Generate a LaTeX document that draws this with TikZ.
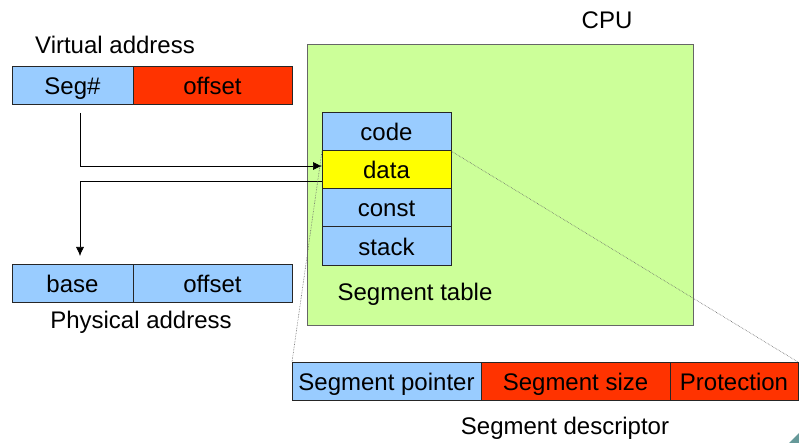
\documentclass[tikz,border=0pt]{standalone}
\usepackage{fontspec}
\setmainfont{Liberation Sans}
\usetikzlibrary{arrows.meta,positioning}

\definecolor{segblue}{HTML}{99CCFF}
\definecolor{segred}{HTML}{FF3300}
\definecolor{segyellow}{HTML}{FFFF00}
\definecolor{cpugreen}{HTML}{CCFF99}
\definecolor{cornerteal}{HTML}{669999}

\begin{document}
\begin{tikzpicture}[x=1pt,y=-1pt,>={Latex[length=9pt,width=8pt]},semithick,
	font=\fontsize{24}{28}\selectfont]
	\tikzstyle{cell}=[draw=black!85,line width=1pt,inner sep=0pt,outer sep=0pt,
		minimum height=38pt,text height=22pt,text depth=4pt,anchor=north west]
	\tikzstyle{zoomline}=[densely dotted,draw=black!60,line width=0.6pt]

	\useasboundingbox (0,0) rectangle (799,443);

	% CPU with its segment table
	\node[cell,fill=cpugreen,draw=black!60,minimum width=386pt,minimum height=280pt] (cpu) at (307,45) {};
	\node (cpulbl) at (607,20) {CPU};
	\node[cell,fill=segblue,minimum width=129pt] (code) at (322,113) {code};
	\node[cell,fill=segyellow,minimum width=129pt,below=0pt of code] (data) {data};
	\node[cell,fill=segblue,minimum width=129pt,below=0pt of data] (const) {const};
	\node[cell,fill=segblue,minimum width=129pt,below=0pt of const] (stack) {stack};
	\node (tbllbl) at (415,294) {Segment table};

	% virtual address
	\node (vlbl) at (115,45) {Virtual address};
	\node[cell,fill=segblue,minimum width=121pt] (seg) at (12,67) {Seg\#};
	\node[cell,fill=segred,minimum width=159pt,right=0pt of seg] (voff) {offset};

	% physical address
	\node[cell,fill=segblue,minimum width=121pt] (base) at (12,264) {base};
	\node[cell,fill=segblue,minimum width=159pt,right=0pt of base] (poff) {offset};
	\node (plbl) at (141,322) {Physical address};

	% segment descriptor
	\node[cell,fill=segblue,minimum width=189pt] (ptr) at (292,362) {Segment pointer};
	\node[cell,fill=segred,minimum width=189pt,right=0pt of ptr] (size) {Segment size};
	\node[cell,fill=segred,minimum width=128pt,right=0pt of size] (prot) {Protection};
	\node (dsclbl) at (565,428) {Segment descriptor};

	\coordinate (segtap) at (80,113);
	\draw[->] (segtap) |- ([yshift=4pt]data.west);
	\draw[->,shorten >=8pt] ([yshift=-11pt]data.west) -| ([xshift=7.5pt]base.north);

	\draw[zoomline] (data.north west) -- (ptr.north west);
	\draw[zoomline] (data.north east) -- (prot.north east);

	\fill[cornerteal] (789,443) -- (799,433) -- (799,443) -- cycle;
\end{tikzpicture}
\end{document}
